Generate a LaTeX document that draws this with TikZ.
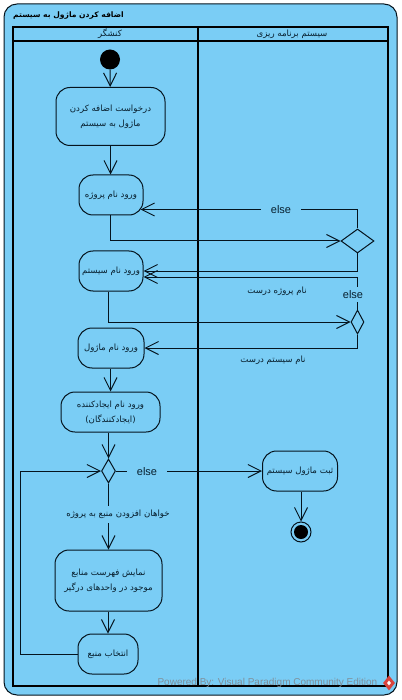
\documentclass[tikz,border=0pt]{standalone}
\usepackage{fontspec}
\usepackage{xcolor}
\setmainfont{Liberation Sans}
\newfontfamily\arabicfont[Script=Arabic]{DejaVu Sans}
\TeXXeTstate=1
\usetikzlibrary{
  arrows.meta,
  shapes.geometric,
  calc
}
\definecolor{vpBlue}{HTML}{7ACDF5}
\definecolor{vpLine}{HTML}{05141E}
\definecolor{vpText}{HTML}{08202F}
\definecolor{vpMark}{HTML}{7F8F9A}
\definecolor{vpRed}{HTML}{D9433C}
\newcommand{\fa}[1]{\raisebox{-1pt}{\beginR#1\endR}}
\tikzset{
  frame/.style={draw=vpLine, fill=vpBlue, line width=1pt, rounded corners=13pt},
  pool/.style={draw=black, line width=2pt},
  action/.style={
    draw=vpLine, fill=vpBlue, line width=1pt, rounded corners=14pt, inner sep=0pt,
    font=\arabicfont\fontsize{8.6}{15}\selectfont, text=vpText, align=center
  },
  decision/.style={draw=vpLine, fill=vpBlue, line width=1pt, diamond, inner sep=0pt, aspect=1},
  tag/.style={font=\arabicfont\fontsize{8.6}{10}\selectfont, text=vpText, fill=vpBlue, inner sep=1pt},
  elsetag/.style={font=\fontsize{11}{12}\selectfont, text=vpText, fill=vpBlue, inner xsep=10pt, inner ysep=3pt},
  head/.style={font=\arabicfont\fontsize{8.6}{10}\selectfont, text=vpText, inner sep=0pt},
  flow/.style={-{Straight Barb[length=13pt,width=13pt]}, draw=vpLine, line width=1pt}
}
\begin{document}
\begin{tikzpicture}[x=1pt, y=-1pt]
  \useasboundingbox (0,0) rectangle (401,700);
  \draw[frame] (4,4) rectangle (397,695);
  \node[font=\arabicfont\bfseries\fontsize{7.6}{10}\selectfont, text=black, inner sep=0pt, anchor=west] (title) at (13,16) {\fa{اضافه کردن ماژول به سیستم}};
  % swimlanes
  \draw[pool] (13,27) rectangle (388,686);
  \draw[pool] (13,41) -- (388,41);
  \draw[pool] (198,27) -- (198,686);
  \node[head] (lane1) at (110,34) {\fa{کنشگر}};
  \node[head] (lane2) at (292,34) {\fa{سیستم برنامه ریزی}};

  % actions
  \node[circle, fill=black, minimum size=20pt, inner sep=0pt] (init) at (110,59.5) {};
  \node[action, minimum width=109pt, minimum height=58pt] (request) at (110.5,116.5) {\fa{درخواست اضافه کردن}\\\fa{ماژول به سیستم}};
  \node[action, minimum width=64pt, minimum height=40pt] (project) at (111,195) {\fa{ورود نام پروژه}};
  \node[decision, minimum width=33pt, minimum height=24pt, aspect=1.4] (check1) at (357.5,241) {};
  \node[action, minimum width=64pt, minimum height=40pt] (system) at (111,271) {\fa{ورود نام سیستم}};
  \node[decision, minimum width=13pt, minimum height=24pt, aspect=0.55] (check2) at (357.5,322) {};
  \node[action, minimum width=66pt, minimum height=40pt] (module) at (111,348) {\fa{ورود نام ماژول}};
  \node[action, minimum width=99pt, minimum height=40pt] (creator) at (110.5,412) {\fa{ورود نام ایجادکننده}\\\fa{(ایجادکنندگان)}};
  \node[decision, minimum width=14pt, minimum height=24pt, aspect=0.55] (check3) at (108.5,471) {};
  \node[action, minimum width=75pt, minimum height=40pt] (save) at (300,471) {\fa{ثبت ماژول سیستم}};
  \node[circle, draw=vpLine, line width=1pt, minimum size=20pt, inner sep=0pt] (final) at (301,532) {};
  \node[circle, fill=black, minimum size=14pt, inner sep=0pt] (finaldot) at (301,532) {};
  \node[action, minimum width=107pt, minimum height=61pt] (list) at (108.5,580.5) {\fa{نمایش فهرست منابع}\\\fa{موجود در واحدهای درگیر}};
  \node[action, minimum width=60pt, minimum height=40pt] (pick) at (108,654) {\fa{انتخاب منبع}};

  % flows
  \draw[flow] (init) -- (request);
  \draw[flow] (request) -- (request |- project.north);
  \draw[flow] (project.south -| request) |- (check1.west);
  \draw[flow] (check1.north) |- ([xshift=-3pt,yshift=-14.5pt]project.east);
  \node[elsetag] (else1) at (281,210) {else};
  \draw[flow] (check1.south) |- (system.east);
  \draw[flow] (check2.north) |- ([yshift=-6pt]system.east);
  \node[elsetag] (else2) at (353,294.5) {else};
  \node[tag, fill=none] (okproject) at (277,291.5) {\fa{نام پروژه درست}};
  \draw[flow] ([xshift=-2.5pt]system.south) |- (check2.west);
  \draw[flow] (check2.south) |- (module.east);
  \node[tag, fill=none] (oksystem) at (273,360) {\fa{نام سیستم درست}};
  \draw[flow] (module.south -| request) -- (request |- creator.north);
  \draw[flow] (creator.south -| check3) -- (check3.north);
  \draw[flow] (check3.east) -- (save.west);
  \node[elsetag] (else3) at (147,472) {else};
  \draw[flow] (save.south -| final) -- (final.north);
  \draw[flow] (check3.south) -- (list.north -| check3);
  \node[tag, inner ysep=4pt] (wants) at (118,514.5) {\fa{خواهان افزودن منبع به پروژه}};
  \draw[flow] (list.south -| pick) -- (pick.north);
  \draw[flow] (pick.west) -- (20,654) |- (check3.west);

  % watermark
  \node[font=\fontsize{10}{12}\selectfont, text=vpMark, inner sep=0pt, anchor=east] (mark) at (377.5,683) {Powered By: Visual Paradigm Community Edition};
  \node[diamond, fill=vpRed, minimum width=12pt, minimum height=15pt, inner sep=0pt] (logo) at (389,683) {};
  \node[diamond, fill=white, minimum width=4pt, minimum height=5pt, inner sep=0pt] (logodot) at (389,683) {};
\end{tikzpicture}
\end{document}
